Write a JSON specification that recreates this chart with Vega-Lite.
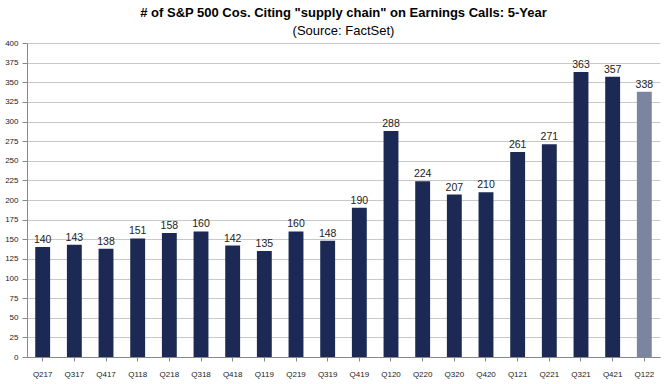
{
  "$schema": "https://vega.github.io/schema/vega-lite/v6.json",
  "width": 672,
  "height": 384,
  "autosize": {"type": "fit", "contains": "padding"},
  "padding": {"left": 4, "right": 12, "top": 7, "bottom": 6},
  "background": "white",
  "title": {
    "text": "# of S&P 500 Cos. Citing \"supply chain\" on Earnings Calls: 5-Year",
    "subtitle": "(Source: FactSet)",
    "font": "Liberation Sans",
    "fontSize": 13,
    "fontWeight": "bold",
    "color": "#000000",
    "subtitleFont": "Liberation Sans",
    "subtitleFontSize": 13,
    "subtitleColor": "#000000",
    "subtitlePadding": 5,
    "anchor": "middle",
    "offset": 1
  },
  "data": {
    "values": [
      {"q": "Q217", "v": 140, "est": false},
      {"q": "Q317", "v": 143, "est": false},
      {"q": "Q417", "v": 138, "est": false},
      {"q": "Q118", "v": 151, "est": false},
      {"q": "Q218", "v": 158, "est": false},
      {"q": "Q318", "v": 160, "est": false},
      {"q": "Q418", "v": 142, "est": false},
      {"q": "Q119", "v": 135, "est": false},
      {"q": "Q219", "v": 160, "est": false},
      {"q": "Q319", "v": 148, "est": false},
      {"q": "Q419", "v": 190, "est": false},
      {"q": "Q120", "v": 288, "est": false},
      {"q": "Q220", "v": 224, "est": false},
      {"q": "Q320", "v": 207, "est": false},
      {"q": "Q420", "v": 210, "est": false},
      {"q": "Q121", "v": 261, "est": false},
      {"q": "Q221", "v": 271, "est": false},
      {"q": "Q321", "v": 363, "est": false},
      {"q": "Q421", "v": 357, "est": false},
      {"q": "Q122", "v": 338, "est": true}
    ]
  },
  "encoding": {
    "x": {
      "field": "q", "type": "nominal", "sort": null,
      "scale": {"paddingInner": 0.53, "paddingOuter": 0.26},
      "axis": {"title": null, "labelAngle": 0, "labelFont": "Liberation Sans", "labelFontSize": 8, "labelColor": "#222222", "domainColor": "#888888", "tickColor": "#888888", "tickSize": 4, "labelPadding": 9, "grid": false}
    },
    "y": {
      "field": "v", "type": "quantitative",
      "scale": {"domain": [0, 400]},
      "axis": {"title": null, "values": [0,25,50,75,100,125,150,175,200,225,250,275,300,325,350,375,400], "labelFont": "Liberation Sans", "labelFontSize": 8, "labelColor": "#222222", "domainColor": "#888888", "tickColor": "#888888", "tickSize": 5, "gridColor": "#c8c8c8", "labelPadding": 4}
    }
  },
  "layer": [
    {
      "mark": {"type": "bar"},
      "encoding": {
        "color": {
          "field": "est", "type": "nominal", "legend": null,
          "scale": {"domain": [false, true], "range": ["#1b2954", "#7c85a0"]}
        }
      }
    },
    {
      "mark": {"type": "text", "dy": -7, "font": "Liberation Sans", "fontSize": 10.5, "color": "#222222"},
      "encoding": {"text": {"field": "v", "type": "quantitative"}}
    }
  ],
  "config": {"view": {"stroke": null}}
}
